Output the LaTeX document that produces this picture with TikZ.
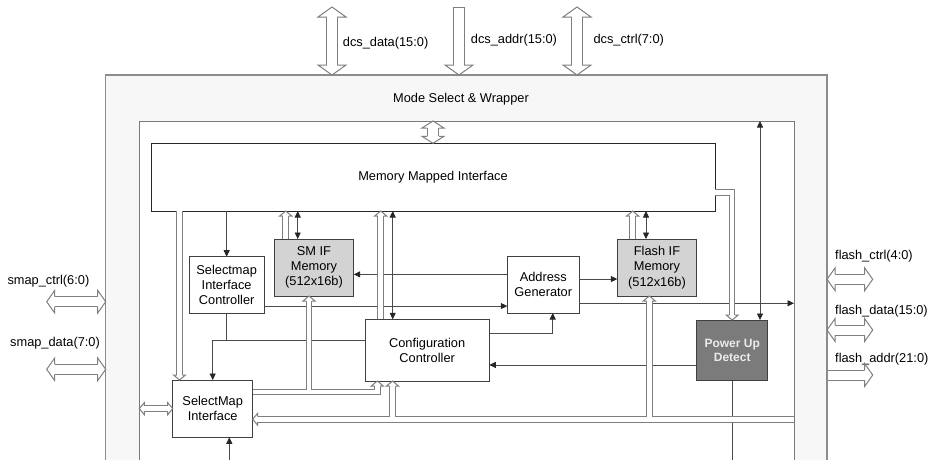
\documentclass[tikz,border=0pt]{standalone}
\usepackage{fontspec}
\setmainfont{Liberation Sans}
\usetikzlibrary{arrows.meta,calc}
\definecolor{wrapfill}{HTML}{F7F7F7}
\definecolor{wrapline}{HTML}{8C8C8C}
\definecolor{innerline}{HTML}{7A7A7A}
\definecolor{boxline}{HTML}{404040}
\definecolor{memfill}{HTML}{D3D3D3}
\definecolor{pudfill}{HTML}{7B7B7B}
\definecolor{busline}{HTML}{7F7F7F}
\definecolor{connline}{HTML}{4A4A4A}

\newcommand\smallbus[1]{%
  \draw[#1, shorten >=5pt] (b1) -- (b1 |- mmi.south);
  \draw[#1, shorten >=5pt] (b2) -- (b2 |- mmi.south);
  \draw[#1, shorten >=5pt] (b3) -- (b3 |- mmi.south);
  \draw[#1, shorten >=5pt] (b4) -| (pud.north);
  \draw[#1, shorten >=5pt] (b5 |- mmi.south) -- (b5);
  \draw[#1, shorten >=5pt] (b6) -| (b6c);
  \draw[#1, shorten >=5pt] (b7 |- b6) -- (b7);
  \draw[#1, shorten >=5pt, shorten <=0.5pt] (b8 -| inner.east) -- (b8);
  \draw[#1, shorten >=5pt] (b9 |- b8) -- (b9);
  \draw[#1, shorten >=5pt] (b10 |- b8) -- (b10);
  \draw[#1, shorten >=5pt, shorten <=5pt] (inner.west |- smi.west) -- (smi.west);
}
\newcommand\dcsbus[2]{%
  \draw[#1, shorten <=10pt, shorten >=10pt] (c1) -- (c1 |- wrap.north);
  \draw[#1, #2, shorten >=10pt] (c2) -- (c2 |- wrap.north);
  \draw[#1, shorten <=10pt, shorten >=10pt] (c3) -- (c3 |- wrap.north);
}
\newcommand\sidebus[1]{%
  \draw[#1, shorten <=8pt, shorten >=8pt] (c4) -- (c4 -| wrap.west);
  \draw[#1, shorten <=8pt, shorten >=8pt] (c5) -- (c5 -| wrap.west);
  \draw[#1, shorten <=8pt, shorten >=8pt] (c6 -| wrap.east) -- (c6);
  \draw[#1, shorten <=8pt, shorten >=8pt] (c7 -| wrap.east) -- (c7);
  \draw[#1, shorten >=8pt, shorten <=0.5pt] (c8 -| wrap.east) -- (c8);
}

\begin{document}
\begin{tikzpicture}[x=1pt,y=-1pt,
  >={Triangle[length=6.5pt,width=6pt,color=black!85]},
  txt/.style={font=\fontsize{12.8}{15.3}\selectfont},
  box/.style={txt, draw=boxline, line width=0.8pt, fill=white, inner sep=0pt,
    outer sep=0pt, anchor=north west, align=center},
  lbl/.style={txt, inner sep=0pt},
  conn/.style={draw=connline, line width=0.8pt},
  hline/.style={draw=busline, line width=1pt, line join=miter},
  shead/.pic={\fill[white] (0,0)--(-5,6)--(-5,-6)--cycle;
    \draw[hline] (-5,2.75)--(-5,6)--(0,0)--(-5,-6)--(-5,-2.75);},
  mhead/.pic={\fill[white] (0,0)--(-7,11)--(-7,-11)--cycle;
    \draw[hline] (-7,5.75)--(-7,11)--(0,0)--(-7,-11)--(-7,-5.75);},
  bhead/.pic={\fill[white] (0,0)--(-10,14)--(-10,-14)--cycle;
    \draw[hline] (-10,5.15)--(-10,14)--(0,0)--(-10,-14)--(-10,-5.15);},
  lhead/.pic={\fill[white] (0,0)--(-8,11.3)--(-8,-11.3)--cycle;
    \draw[hline] (-8,5)--(-8,11.3)--(0,0)--(-8,-11.3)--(-8,-5);}
]
\useasboundingbox (0,0) rectangle (933,459);
\clip (0,0) rectangle (933,459);

% wrapper and inner area
\node[box, draw=wrapline, line width=1.2pt, fill=wrapfill, minimum width=721.3pt, minimum height=420pt] (wrap) at (105.7,75) {};
\node[lbl] (wraplbl) at (461,99) {Mode Select \& Wrapper};
\node[box, draw=innerline, line width=1pt, minimum width=654.7pt, minimum height=400pt] (inner) at (139.3,121) {};

% blocks
\node[box, draw=black!85, minimum width=564pt, minimum height=67.7pt] (mmi) at (151,143.3) {Memory Mapped Interface};
\node[box, minimum width=74.7pt, minimum height=56.3pt] (sic) at (189.3,256.7) {Selectmap\\Interface\\Controller};
\node[box, fill=memfill, minimum width=79.4pt, minimum height=57pt] (smif) at (274.3,239) {SM IF\\Memory\\(512x16b)};
\node[box, fill=memfill, minimum width=79.4pt, minimum height=57pt] (flif) at (617.3,239) {Flash IF\\Memory\\(512x16b)};
\node[box, minimum width=72pt, minimum height=56.7pt] (ag) at (507.3,256.3) {Address\\Generator};
\node[box, fill=pudfill, text=white!92!black, font=\fontsize{12}{13.5}\selectfont\bfseries, minimum width=71pt, minimum height=60.7pt] (pud) at (696.7,320) {Power Up\\Detect};
\node[box, minimum width=124.3pt, minimum height=61.7pt] (cc) at (365,319.3) {Configuration\\Controller};
\node[box, minimum width=80pt, minimum height=57.3pt] (smi) at (172.7,380) {SelectMap\\Interface};

% external labels
\node[lbl, anchor=west] (ldata) at (342.7,43.3) {dcs\_data(15:0)};
\node[lbl, anchor=west] (laddr) at (470.7,40) {dcs\_addr(15:0)};
\node[lbl, anchor=west] (lctrl) at (593.3,40) {dcs\_ctrl(7:0)};
\node[lbl, anchor=west] (lsctrl) at (7.3,281) {smap\_ctrl(6:0)};
\node[lbl, anchor=west] (lsdata) at (10,342.7) {smap\_data(7:0)};
\node[lbl, anchor=west] (lfctrl) at (835,256) {flash\_ctrl(4:0)};
\node[lbl, anchor=west] (lfdata) at (835,310.7) {flash\_data(15:0)};
\node[lbl, anchor=west] (lfaddr) at (835,359.3) {flash\_addr(21:0)};

% tap points
\coordinate (a2) at ([xshift=23.4pt]smif.north west);
\coordinate (a3) at ([xshift=27.7pt]cc.north west);
\coordinate (a4) at ([xshift=28.7pt]flif.north west);
\coordinate (a5) at ([xshift=27.8pt]pud.north);
\coordinate (a6) at ([yshift=10.3pt]ag.west);
\coordinate (a7) at ([yshift=-21.2pt]sic.east);
\coordinate (a8) at ([yshift=5.6pt]ag.east);
\coordinate (a9) at ([yshift=-18.6pt]ag.east);
\coordinate (a10) at ([yshift=-14.6pt]pud.west);
\coordinate (a11) at ([yshift=16.8pt]cc.east);
\coordinate (a11b) at ([xshift=9.4pt]ag.south);
\coordinate (a12) at ([yshift=10.2pt]cc.west);
\coordinate (a15) at ([xshift=16.6pt]smi.south);
\coordinate (b1) at ([xshift=11.4pt]smif.north west);
\coordinate (b2) at ([xshift=15.4pt]flif.north west);
\coordinate (b3) at ([xshift=15.7pt]cc.north west);
\coordinate (b4) at ([yshift=-15.5pt]mmi.east);
\coordinate (b5) at ([xshift=6.8pt]smi.north west);
\coordinate (b6) at ([yshift=16.6pt]smi.east);
\coordinate (b6c) at ([xshift=12.3pt]cc.south west);
\coordinate (b7) at ([xshift=-5pt]smif.south);
\coordinate (b8) at ([yshift=-10.6pt]smi.east);
\coordinate (b9) at ([xshift=27.5pt]cc.south west);
\coordinate (b10) at ([xshift=32pt]flif.south west);
\coordinate (c1) at (332,7);
\coordinate (c2) at (459,7);
\coordinate (c3) at (577,7);
\coordinate (c4) at (46.7,301.7);
\coordinate (c5) at (46.7,369.3);
\coordinate (c6) at (872.7,279.3);
\coordinate (c7) at (872.7,330);
\coordinate (c8) at (872.7,375);

% thin connectors
\draw[conn,->] (sic.north |- mmi.south) -- (sic.north);
\draw[conn,<->] (a2 |- mmi.south) -- (a2);
\draw[conn,<->] (a3 |- mmi.south) -- (a3);
\draw[conn,<->] (a4 |- mmi.south) -- (a4);
\draw[conn,<->] (a5 |- inner.north) -- (a5);
\draw[conn,->] (a6) -- (a6 -| smif.east);
\draw[conn,->] (a7) -- (a7 -| ag.west);
\draw[conn,->] (a8) -- (a8 -| flif.west);
\draw[conn,->] (a9) -- (a9 -| inner.east);
\draw[conn,->] (a10) -- (a10 -| cc.east);
\draw[conn,->] (a11) -| (a11b);
\draw[conn,->] (a12) -| (smi.north);
\draw[conn] (sic.south) -- (sic.south |- a12);
\draw[conn] (pud.south) -- (pud.south |- inner.south);
\draw[conn,->] (a15 |- inner.south) -- (a15);

% hollow buses inside
\smallbus{draw=busline, line width=6.5pt}
\smallbus{draw=white, line width=4.5pt}
\pic[rotate=90] at (b1 |- mmi.south) {shead};
\pic[rotate=90] at (b2 |- mmi.south) {shead};
\pic[rotate=90] at (b3 |- mmi.south) {shead};
\pic[rotate=-90] at (pud.north) {shead};
\pic[rotate=-90] at (b5) {shead};
\pic[rotate=90] at (b6c) {shead};
\pic[rotate=90] at (b7) {shead};
\pic[rotate=180] at (b8) {shead};
\pic[rotate=90] at (b9) {shead};
\pic[rotate=90] at (b10) {shead};
\pic at (smi.west) {shead};
\pic[rotate=180] at (inner.west |- smi.west) {shead};

% top link into memory mapped interface
\draw[draw=busline, line width=12.5pt, shorten <=7pt, shorten >=7pt] (mmi.north |- inner.north) -- (mmi.north);
\draw[draw=white, line width=10.5pt, shorten <=7pt, shorten >=7pt] (mmi.north |- inner.north) -- (mmi.north);
\pic[rotate=90] at (mmi.north |- inner.north) {mhead};
\pic[rotate=-90] at (mmi.north) {mhead};

% external buses
\dcsbus{draw=busline, line width=11.3pt}{shorten <=0pt}
\dcsbus{draw=white, line width=9.3pt}{shorten <=1pt}
\pic[rotate=90] at (c1) {bhead};
\pic[rotate=-90] at (c1 |- wrap.north) {bhead};
\pic[rotate=-90] at (c2 |- wrap.north) {bhead};
\pic[rotate=90] at (c3) {bhead};
\pic[rotate=-90] at (c3 |- wrap.north) {bhead};

\sidebus{draw=busline, line width=11pt}
\sidebus{draw=white, line width=9pt}
\pic[rotate=180] at (c4) {lhead};
\pic at (c4 -| wrap.west) {lhead};
\pic[rotate=180] at (c5) {lhead};
\pic at (c5 -| wrap.west) {lhead};
\pic[rotate=180] at (c6 -| wrap.east) {lhead};
\pic at (c6) {lhead};
\pic[rotate=180] at (c7 -| wrap.east) {lhead};
\pic at (c7) {lhead};
\pic at (c8) {lhead};
\end{tikzpicture}
\end{document}
